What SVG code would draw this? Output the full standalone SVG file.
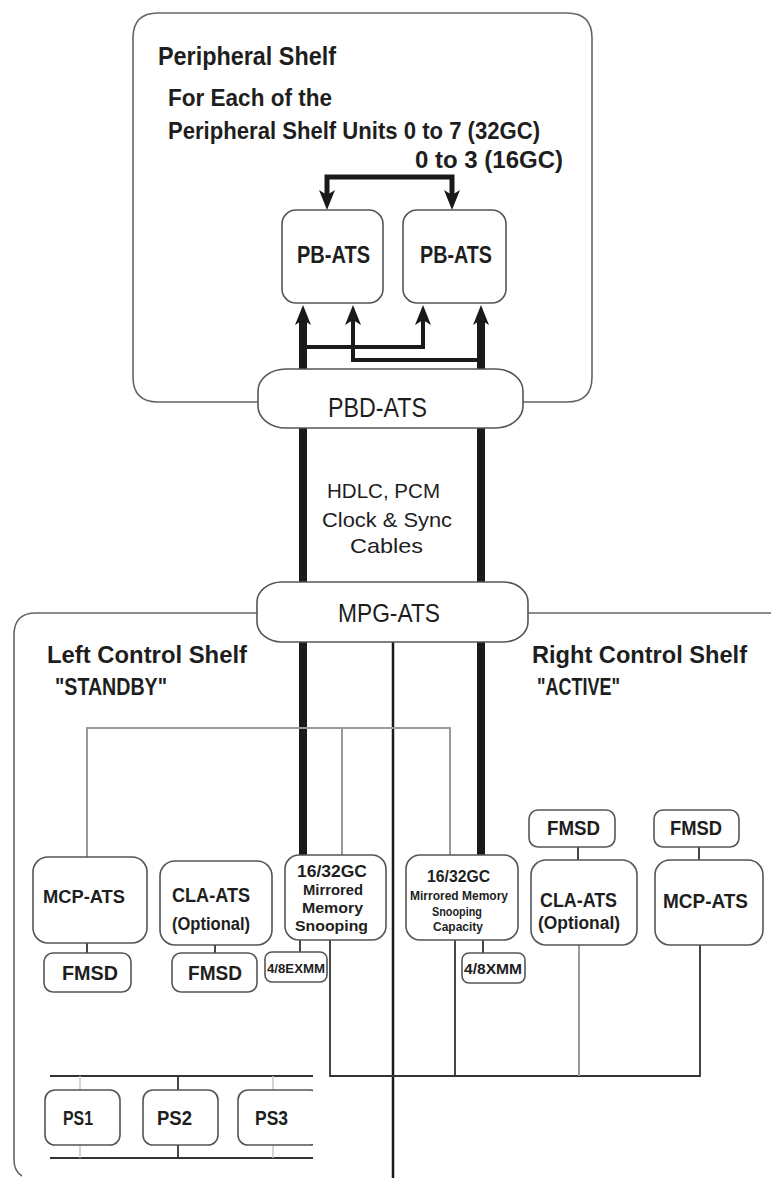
<svg xmlns="http://www.w3.org/2000/svg" width="771" height="1178" viewBox="0 0 771 1178">
<style>
.t{font-family:"Liberation Sans",Arial,sans-serif;font-weight:bold;fill:#1e1e1e}
.r{font-weight:normal}
.shelf{fill:none;stroke:#666;stroke-width:1.6}
.box{fill:#fff;stroke:#555;stroke-width:1.6}
.thick{fill:none;stroke:#1a1a1a;stroke-width:8}
.mid{fill:none;stroke:#1a1a1a;stroke-width:4}
.arr{fill:none;stroke:#1a1a1a;stroke-width:5}
.blk{fill:none;stroke:#1a1a1a;stroke-width:2.5}
.dk{fill:none;stroke:#333;stroke-width:1.8}
.gr{fill:none;stroke:#9a9a9a;stroke-width:2}
.lg{fill:none;stroke:#c8c8c8;stroke-width:1.5}
</style>
<defs>
<marker id="ah" viewBox="0 0 20 16" refX="6" refY="8" markerWidth="20" markerHeight="16" markerUnits="userSpaceOnUse" orient="auto-start-reverse">
<path d="M0,0 L20,8 L0,16 L5,8 Z" fill="#1a1a1a"/>
</marker>
<clipPath id="ps3clip"><rect x="230" y="1080" width="83" height="80"/></clipPath>
</defs>
<rect width="771" height="1178" fill="#fff"/>

<g id="peripheral-shelf">
<path class="shelf" d="M258,402 H158 Q133,402 133,377 V38 Q133,13 158,13 H567 Q592,13 592,38 V377 Q592,402 567,402 H523"/>
<text class="t" x="158" y="65" font-size="25" textLength="178" lengthAdjust="spacingAndGlyphs">Peripheral Shelf</text>
<text class="t" x="168" y="106" font-size="24" textLength="164" lengthAdjust="spacingAndGlyphs">For Each of the</text>
<text class="t" x="168" y="139" font-size="24" textLength="372" lengthAdjust="spacingAndGlyphs">Peripheral Shelf Units 0 to 7 (32GC)</text>
<text class="t" x="415" y="168" font-size="24" textLength="148" lengthAdjust="spacingAndGlyphs">0 to 3 (16GC)</text>
</g>

<g id="left-control-shelf">
<path class="shelf" d="M257,613 H36 Q14,613 14,635 V1160 Q14,1171 22,1176"/>
<text class="t" x="47" y="663" font-size="24" textLength="200" lengthAdjust="spacingAndGlyphs">Left Control Shelf</text>
<text class="t" x="55" y="695" font-size="24" textLength="112" lengthAdjust="spacingAndGlyphs">"STANDBY"</text>
</g>

<g id="right-control-shelf">
<path class="shelf" d="M528,613 H771"/>
<text class="t" x="532" y="663" font-size="24" textLength="215" lengthAdjust="spacingAndGlyphs">Right Control Shelf</text>
<text class="t" x="537" y="695" font-size="24" textLength="83" lengthAdjust="spacingAndGlyphs">"ACTIVE"</text>
</g>

<g id="connectors">
<path class="arr" d="M327,196 V177 H452 V196" marker-start="url(#ah)" marker-end="url(#ah)"/>
<path class="thick" d="M303,855 V319" marker-end="url(#ah)"/>
<path class="thick" d="M481,855 V319" marker-end="url(#ah)"/>
<path class="mid" d="M303,347 H423 V319" marker-end="url(#ah)"/>
<path class="mid" d="M481,360 H353 V319" marker-end="url(#ah)"/>
<path class="blk" d="M393,642 V1178"/>
<path class="gr" d="M87,857 V728 H450 V855"/>
<path class="gr" d="M342,728 V855"/>
<path class="dk" d="M87,943 V953"/>
<path class="dk" d="M215,945 V953"/>
<path class="dk" d="M300,940 V952"/>
<path class="dk" d="M483,940 V953"/>
<path class="dk" d="M330,940 V1076 H700 V945"/>
<path class="dk" d="M455,940 V1076"/>
<path class="gr" d="M579,945 V1076"/>
<path class="dk" d="M578,847 V860"/>
<path class="dk" d="M699,847 V860"/>
<path class="dk" d="M50,1076 H313"/>
<path class="dk" d="M50,1158 H313"/>
<path class="dk" d="M178,1076 V1090"/>
<path class="dk" d="M178,1145 V1158"/>
<path class="lg" d="M80,1076 V1090 M273,1076 V1090 M80,1145 V1158 M273,1145 V1158"/>
</g>

<g id="pb-ats-1">
<rect class="box" x="282" y="210" width="101" height="93" rx="14"/>
<text class="t" x="297" y="263" font-size="23" textLength="73" lengthAdjust="spacingAndGlyphs">PB-ATS</text>
</g>
<g id="pb-ats-2">
<rect class="box" x="403" y="210" width="103" height="93" rx="14"/>
<text class="t" x="420" y="263" font-size="23" textLength="72" lengthAdjust="spacingAndGlyphs">PB-ATS</text>
</g>

<g id="pbd-ats">
<rect class="box" x="258" y="369" width="265" height="59" rx="28" ry="22"/>
<text class="t r" x="328" y="417" font-size="27" textLength="99" lengthAdjust="spacingAndGlyphs">PBD-ATS</text>
</g>

<g id="cables-label">
<text class="t r" x="327" y="498" font-size="21" textLength="113" lengthAdjust="spacingAndGlyphs">HDLC, PCM</text>
<text class="t r" x="322" y="527" font-size="21" textLength="130" lengthAdjust="spacingAndGlyphs">Clock &amp; Sync</text>
<text class="t r" x="350" y="553" font-size="21" textLength="73" lengthAdjust="spacingAndGlyphs">Cables</text>
</g>

<g id="mpg-ats">
<rect class="box" x="257" y="582" width="271" height="60" rx="25" ry="20"/>
<text class="t r" x="338" y="622" font-size="25" textLength="102" lengthAdjust="spacingAndGlyphs">MPG-ATS</text>
</g>

<g id="mcp-ats-left">
<rect class="box" x="33" y="857" width="114" height="86" rx="15"/>
<text class="t" x="43" y="903" font-size="19" textLength="82" lengthAdjust="spacingAndGlyphs">MCP-ATS</text>
</g>
<g id="cla-ats-left">
<rect class="box" x="160" y="861" width="112" height="84" rx="15"/>
<text class="t" x="172" y="902" font-size="20" textLength="78" lengthAdjust="spacingAndGlyphs">CLA-ATS</text>
<text class="t" x="172" y="930" font-size="18" textLength="78" lengthAdjust="spacingAndGlyphs">(Optional)</text>
</g>
<g id="memory-left">
<rect class="box" x="285" y="855" width="101" height="85" rx="14"/>
<text class="t" x="297" y="877" font-size="17" textLength="70" lengthAdjust="spacingAndGlyphs">16/32GC</text>
<text class="t" x="303" y="895" font-size="15" textLength="60" lengthAdjust="spacingAndGlyphs">Mirrored</text>
<text class="t" x="302" y="913" font-size="15" textLength="61" lengthAdjust="spacingAndGlyphs">Memory</text>
<text class="t" x="295" y="931" font-size="15" textLength="73" lengthAdjust="spacingAndGlyphs">Snooping</text>
</g>
<g id="memory-right">
<rect class="box" x="406" y="855" width="112" height="85" rx="14"/>
<text class="t" x="427" y="882" font-size="17" textLength="63" lengthAdjust="spacingAndGlyphs">16/32GC</text>
<text class="t" x="410" y="900" font-size="13" textLength="98" lengthAdjust="spacingAndGlyphs">Mirrored Memory</text>
<text class="t" x="432" y="916" font-size="13" textLength="50" lengthAdjust="spacingAndGlyphs">Snooping</text>
<text class="t" x="433" y="931" font-size="13" textLength="50" lengthAdjust="spacingAndGlyphs">Capacity</text>
</g>
<g id="fmsd-right-1">
<rect class="box" x="529" y="810" width="86" height="37" rx="9"/>
<text class="t" x="547" y="835" font-size="21" textLength="53" lengthAdjust="spacingAndGlyphs">FMSD</text>
</g>
<g id="fmsd-right-2">
<rect class="box" x="654" y="810" width="85" height="37" rx="9"/>
<text class="t" x="670" y="835" font-size="21" textLength="52" lengthAdjust="spacingAndGlyphs">FMSD</text>
</g>
<g id="cla-ats-right">
<rect class="box" x="531" y="860" width="106" height="85" rx="15"/>
<text class="t" x="540" y="907" font-size="20" textLength="77" lengthAdjust="spacingAndGlyphs">CLA-ATS</text>
<text class="t" x="538" y="929" font-size="18" textLength="82" lengthAdjust="spacingAndGlyphs">(Optional)</text>
</g>
<g id="mcp-ats-right">
<rect class="box" x="655" y="860" width="108" height="85" rx="15"/>
<text class="t" x="663" y="908" font-size="20" textLength="85" lengthAdjust="spacingAndGlyphs">MCP-ATS</text>
</g>
<g id="fmsd-left-1">
<rect class="box" x="44" y="953" width="87" height="39" rx="9"/>
<text class="t" x="62" y="980" font-size="21" textLength="56" lengthAdjust="spacingAndGlyphs">FMSD</text>
</g>
<g id="fmsd-left-2">
<rect class="box" x="172" y="953" width="85" height="39" rx="9"/>
<text class="t" x="188" y="980" font-size="21" textLength="54" lengthAdjust="spacingAndGlyphs">FMSD</text>
</g>
<g id="xmm-left">
<rect class="box" x="265" y="952" width="62" height="30" rx="7"/>
<text class="t" x="267" y="973" font-size="13" textLength="58" lengthAdjust="spacingAndGlyphs">4/8EXMM</text>
</g>
<g id="xmm-right">
<rect class="box" x="462" y="953" width="63" height="30" rx="7"/>
<text class="t" x="464" y="974" font-size="14" textLength="58" lengthAdjust="spacingAndGlyphs">4/8XMM</text>
</g>
<g id="ps1">
<rect class="box" x="45" y="1090" width="75" height="55" rx="10"/>
<text class="t" x="63" y="1125" font-size="21" textLength="30" lengthAdjust="spacingAndGlyphs">PS1</text>
</g>
<g id="ps2">
<rect class="box" x="143" y="1090" width="75" height="55" rx="10"/>
<text class="t" x="157" y="1125" font-size="21" textLength="35" lengthAdjust="spacingAndGlyphs">PS2</text>
</g>
<g id="ps3">
<rect class="box" x="238" y="1090" width="82" height="55" rx="10" clip-path="url(#ps3clip)"/>
<text class="t" x="255" y="1125" font-size="21" textLength="33" lengthAdjust="spacingAndGlyphs">PS3</text>
</g>
</svg>
